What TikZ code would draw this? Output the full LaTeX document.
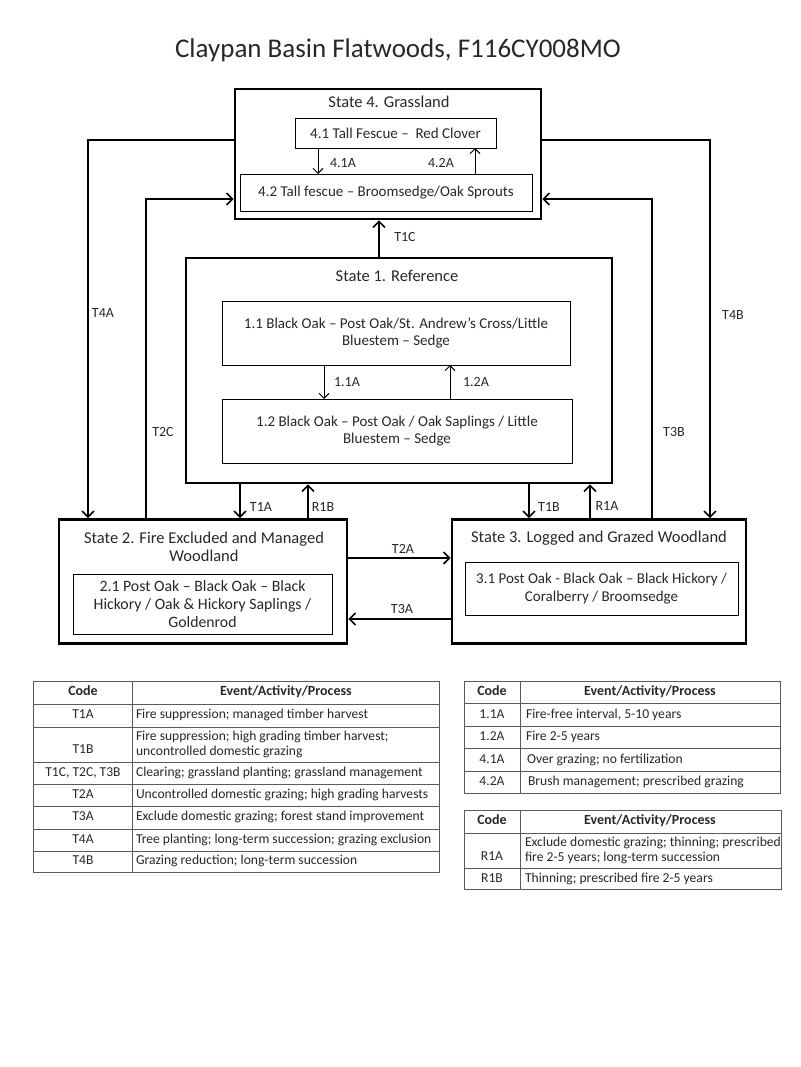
\documentclass[tikz,border=0pt]{standalone}
\usepackage{fontspec}
\setmainfont{Carlito}
\usetikzlibrary{arrows.meta}
\definecolor{txt}{RGB}{40,40,40}
\definecolor{grid}{RGB}{90,90,90}
\begin{document}
\begin{tikzpicture}[x=1pt,y=-1pt,
  every node/.style={text=txt, inner sep=0pt, outer sep=0pt},
  statebox/.style={draw=black, line width=2.6pt, outer sep=1.3pt},
  commbox/.style={draw=black, line width=0.9pt, align=center, font=\fontsize{15}{17.5}\selectfont},
  stitle/.style={align=center, font=\fontsize{16.5}{18}\selectfont},
  lbl/.style={font=\fontsize{14}{16}\selectfont},
  arr/.style={line width=1.6pt, -{Straight Barb[length=6pt,width=12pt,line width=1.6pt]}},
  thinarr/.style={line width=0.9pt, -{Straight Barb[length=5pt,width=10pt,line width=0.9pt]}},
  tcode/.style={font=\fontsize{13.6}{15}\selectfont, text height=9pt, text depth=3pt},
  tdesc/.style={font=\fontsize{13.6}{15}\selectfont, anchor=west, align=left, text height=9pt, text depth=3pt},
  tdesctwo/.style={font=\fontsize{13.6}{15}\selectfont, anchor=west, align=left},
  thead/.style={font=\bfseries\fontsize{14}{15}\selectfont, text height=9.5pt, text depth=3pt},
  tline/.style={draw=grid, line width=0.9pt}]
\useasboundingbox (0,0) rectangle (800,1067);
\fill[white] (0,0) rectangle (800,1067);

% title
\node[font=\fontsize{27}{30}\selectfont] (title) at (398,50) {Claypan Basin Flatwoods, F116CY008MO};

% State 4
\node[statebox, minimum width=306pt, minimum height=130pt] (s4) at (388,154) {};
\node[stitle] (s4t) at (389,102) {State 4. Grassland};
\node[commbox, minimum width=201pt, minimum height=30pt] (b41) at (395.5,133) {4.1 Tall Fescue --\ \ Red Clover};
\node[commbox, minimum width=292pt, minimum height=37pt] (b42) at (386,192.5) {4.2 Tall fescue -- Broomsedge/Oak Sprouts};
\draw[thinarr] ([xshift=-77.5pt]b41.south) -- ([xshift=-77.5pt]b41.south |- b42.north);
\draw[thinarr] ([xshift=79.5pt]b41.south |- b42.north) -- ([xshift=79.5pt]b41.south);
\node[lbl] (l41) at (343,163) {4.1A};
\node[lbl] (l42) at (441,163) {4.2A};

% State 1
\node[statebox, minimum width=426pt, minimum height=225pt] (s1) at (399,370.5) {};
\node[stitle] (s1t) at (397,276) {State 1. Reference};
\node[commbox, minimum width=348pt, minimum height=64pt] (b11) at (396,333) {1.1 Black Oak -- Post Oak/St. Andrew's Cross/Little\\Bluestem -- Sedge};
\node[commbox, minimum width=350pt, minimum height=64pt] (b12) at (397,431) {1.2 Black Oak -- Post Oak / Oak Saplings / Little\\Bluestem -- Sedge};
\draw[thinarr] ([xshift=-72pt]b11.south) -- ([xshift=-72pt]b11.south |- b12.north);
\draw[thinarr] ([xshift=54pt]b11.south |- b12.north) -- ([xshift=54pt]b11.south);
\node[lbl] (l11) at (347,382) {1.1A};
\node[lbl] (l12) at (476,382) {1.2A};

% T1C
\draw[arr] ([xshift=-20pt]s1.north) -- ([xshift=-20pt]s1.north |- s4.south);
\node[lbl] (lt1c) at (405,237) {T1C};

% State 2
\node[statebox, minimum width=288pt, minimum height=124pt] (s2) at (203,581.5) {};
\node[stitle] (s2t) at (204,547) {State 2. Fire Excluded and Managed\\Woodland};
\node[commbox, minimum width=259pt, minimum height=60pt, font=\fontsize{15.8}{18}\selectfont] (b21) at (202.5,604) {2.1 Post Oak -- Black Oak -- Black\\Hickory / Oak \& Hickory Saplings /\\Goldenrod};

% State 3
\node[statebox, minimum width=294pt, minimum height=124pt] (s3) at (599,581.5) {};
\node[stitle] (s3t) at (599,538) {State 3. Logged and Grazed Woodland};
\node[commbox, minimum width=273pt, minimum height=53pt] (b31) at (601.5,588.5) {3.1 Post Oak - Black Oak -- Black Hickory /\\Coralberry / Broomsedge};

% State1 <-> State2 / State3
\draw[arr] ([xshift=-159pt]s1.south) -- ([xshift=-159pt]s1.south |- s2.north);
\node[lbl] (lt1a) at (261,507) {T1A};
\draw[arr] ([xshift=-91pt]s1.south |- s2.north) -- ([xshift=-91pt]s1.south);
\node[lbl] (lr1b) at (323,507) {R1B};
\draw[arr] ([xshift=130pt]s1.south) -- ([xshift=130pt]s1.south |- s3.north);
\node[lbl] (lt1b) at (549,507) {T1B};
\draw[arr] ([xshift=191pt]s1.south |- s3.north) -- ([xshift=191pt]s1.south);
\node[lbl] (lr1a) at (607,506) {R1A};

% State2 <-> State3
\draw[arr] ([yshift=23.5pt]s2.east) -- ([yshift=23.5pt]s2.east -| s3.west);
\node[lbl] (lt2a) at (403,549) {T2A};
\draw[arr] ([yshift=-37.5pt]s3.west) -- ([yshift=-37.5pt]s3.west -| s2.east);
\node[lbl] (lt3a) at (402,609) {T3A};

% outer loops
\coordinate (xt4a) at (88,0);
\coordinate (xt2c) at (146,0);
\coordinate (xt3b) at (652,0);
\coordinate (xt4b) at (710,0);
\draw[arr] ([yshift=14pt]s4.west) -| (xt4a |- s2.north);
\node[lbl] (lt4a) at (103,313) {T4A};
\draw[arr] (xt2c |- s2.north) |- ([yshift=-45pt]s4.west);
\node[lbl] (lt2c) at (163,432) {T2C};
\draw[arr] (xt3b |- s3.north) |- ([yshift=-45pt]s4.east);
\node[lbl] (lt3b) at (674,432) {T3B};
\draw[arr] ([yshift=14pt]s4.east) -| (xt4b |- s3.north);
\node[lbl] (lt4b) at (733,315) {T4B};

% Left table
\draw[tline] (33,681) rectangle (439,872);
\draw[tline] (132,681) -- (132,872);
\foreach \yy in {704,727,762,784,806,829,851}
  \draw[tline] (33,\yy) -- (439,\yy);
\node[thead] (lh1) at (83,692.5) {Code};
\node[thead] (lh2) at (286,692.5) {Event/Activity/Process};
\node[tcode] (lc1) at (83,715.5) {T1A};
\node[tdesc] (ld1) at (136,715.5) {Fire suppression; managed timber harvest};
\node[tcode] (lc2) at (83,750) {T1B};
\node[tdesctwo] (ld2) at (136,744.5) {Fire suppression; high grading timber harvest;\\uncontrolled domestic grazing};
\node[tcode] (lc3) at (83,773) {T1C, T2C, T3B};
\node[tdesc] (ld3) at (136,773) {Clearing; grassland planting; grassland management};
\node[tcode] (lc4) at (83,795) {T2A};
\node[tdesc] (ld4) at (136,795) {Uncontrolled domestic grazing; high grading harvests};
\node[tcode] (lc5) at (83,817.5) {T3A};
\node[tdesc] (ld5) at (136,817.5) {Exclude domestic grazing; forest stand improvement};
\node[tcode] (lc6) at (83,840) {T4A};
\node[tdesc] (ld6) at (136,840) {Tree planting; long-term succession; grazing exclusion};
\node[tcode] (lc7) at (83,861.5) {T4B};
\node[tdesc] (ld7) at (136,861.5) {Grazing reduction; long-term succession};

% Right table 1
\draw[tline] (464,681) rectangle (780,793);
\draw[tline] (520,681) -- (520,793);
\foreach \yy in {703.5,726,748.5,771}
  \draw[tline] (464,\yy) -- (780,\yy);
\node[thead] (rh1) at (492,692) {Code};
\node[thead] (rh2) at (650,692) {Event/Activity/Process};
\node[tcode] (rc1) at (492,715) {1.1A};
\node[tdesc] (rd1) at (526,715) {Fire-free interval, 5-10 years};
\node[tcode] (rc2) at (492,737) {1.2A};
\node[tdesc] (rd2) at (526,737) {Fire 2-5 years};
\node[tcode] (rc3) at (492,760) {4.1A};
\node[tdesc] (rd3) at (527,760) {Over grazing; no fertilization};
\node[tcode] (rc4) at (492,782) {4.2A};
\node[tdesc] (rd4) at (528,782) {Brush management; prescribed grazing};

% Right table 2
\draw[tline] (464,810) rectangle (781,889);
\draw[tline] (520,810) -- (520,889);
\foreach \yy in {833,868}
  \draw[tline] (464,\yy) -- (781,\yy);
\node[thead] (sh1) at (492,821.5) {Code};
\node[thead] (sh2) at (650,821.5) {Event/Activity/Process};
\node[tcode] (sc1) at (492,857) {R1A};
\node[tdesctwo] (sd1) at (525,850.5) {Exclude domestic grazing; thinning; prescribed\\fire 2-5 years; long-term succession};
\node[tcode] (sc2) at (492,879) {R1B};
\node[tdesc] (sd2) at (525,879) {Thinning; prescribed fire 2-5 years};
\end{tikzpicture}
\end{document}
